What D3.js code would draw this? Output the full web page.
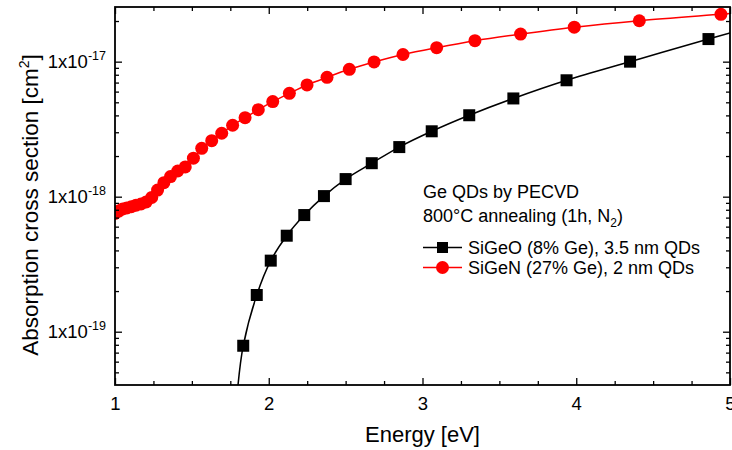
<!DOCTYPE html>
<html>
<head>
<meta charset="utf-8">
<script src="https://cdn.jsdelivr.net/npm/d3@7"></script>
<style>
  html, body { margin: 0; padding: 0; background: #fff; }
  svg { display: block; font-family: "Liberation Sans", Arial, sans-serif; }
</style>
</head>
<body>
<svg id="chart" width="732" height="450"></svg>
<script>
// ---- data ----
const energySiGeO = [1.834, 1.922, 2.013, 2.117, 2.231, 2.359, 2.500, 2.670, 2.849, 3.060, 3.304, 3.591, 3.937, 4.350, 4.860];
const sigmaSiGeO  = [7.87e-20, 1.87e-19, 3.36e-19, 5.14e-19, 7.31e-19, 1.01e-18, 1.35e-18, 1.77e-18, 2.33e-18, 3.05e-18, 4.01e-18, 5.34e-18, 7.28e-18, 1.00e-17, 1.47e-17];
// fitted curve drawn through the SiGeO points
const fitEnergySiGeO = [1.795, 1.834, 1.922, 2.013, 2.117, 2.231, 2.359, 2.500, 2.670, 2.849, 3.060, 3.304, 3.591, 3.937, 4.350, 4.860, 5.000];
const fitSigmaSiGeO  = [3.5e-20, 7.87e-20, 1.87e-19, 3.36e-19, 5.14e-19, 7.31e-19, 1.01e-18, 1.35e-18, 1.77e-18, 2.33e-18, 3.05e-18, 4.01e-18, 5.34e-18, 7.28e-18, 1.00e-17, 1.47e-17, 1.63e-17];

const energySiGeN = [1.000, 1.024, 1.050, 1.077, 1.106, 1.137, 1.169, 1.203, 1.239, 1.277, 1.318, 1.361, 1.408, 1.457, 1.510,
                     1.564, 1.629, 1.694, 1.765, 1.846, 1.932, 2.026, 2.134, 2.249, 2.379, 2.524, 2.685, 2.873, 3.092, 3.341,
                     3.638, 3.987, 4.410, 4.941];
const sigmaSiGeN  = [7.51e-19, 7.83e-19, 8.11e-19, 8.25e-19, 8.42e-19, 8.65e-19, 8.83e-19, 9.14e-19, 9.87e-19, 1.12e-18, 1.27e-18, 1.41e-18, 1.55e-18, 1.66e-18, 1.93e-18,
                     2.28e-18, 2.60e-18, 2.95e-18, 3.38e-18, 3.85e-18, 4.41e-18, 5.06e-18, 5.83e-18, 6.72e-18, 7.66e-18, 8.78e-18, 9.95e-18, 1.13e-17, 1.27e-17, 1.43e-17,
                     1.60e-17, 1.80e-17, 2.01e-17, 2.24e-17];
const lineEndEnergySiGeN = 5.0;
const lineEndSigmaSiGeN = 2.27e-17;

const xMajorTicks = [1, 2, 3, 4, 5];
const xMinorTicks = [1.25, 1.5, 1.75, 2.25, 2.5, 2.75, 3.25, 3.5, 3.75, 4.25, 4.5, 4.75];
const yMajorTicks = [1e-19, 1e-18, 1e-17];
const yMajorExponents = ["-19", "-18", "-17"];
const yMinorTicks = [5e-20, 6e-20, 7e-20, 8e-20, 9e-20,
                     2e-19, 3e-19, 4e-19, 5e-19, 6e-19, 7e-19, 8e-19, 9e-19,
                     2e-18, 3e-18, 4e-18, 5e-18, 6e-18, 7e-18, 8e-18, 9e-18,
                     2e-17];

const legendTitle1 = "Ge QDs by PECVD";
const legendTitle2 = "800°C annealing (1h, N";
const legendLabels = ["SiGeO (8% Ge), 3.5 nm QDs", "SiGeN (27% Ge), 2 nm QDs"];

// ---- layout ----
const svg = d3.select("#chart");
const L = 115, R = 730, T = 7, B = 385;
const x = d3.scaleLinear().domain([1, 5]).range([L, R]);
const y = d3.scaleLog().domain([4.03e-20, 2.54e-17]).range([B, T]);

const defs = svg.append("defs");
defs.append("clipPath").attr("id", "clip")
  .append("rect").attr("x", L).attr("y", T).attr("width", R - L).attr("height", B - T);

const plot = svg.append("g").attr("clip-path", "url(#clip)");

// SiGeO fit line
const lineGen = d3.line().x(d => x(d[0])).y(d => y(d[1]));
plot.append("path")
  .datum(fitEnergySiGeO.map((e, i) => [e, fitSigmaSiGeO[i]]))
  .attr("fill", "none").attr("stroke", "#000").attr("stroke-width", 1.5)
  .attr("d", lineGen.curve(d3.curveCatmullRom.alpha(0.5)));

plot.selectAll("rect.sq")
  .data(energySiGeO.map((e, i) => [e, sigmaSiGeO[i]]))
  .join("rect").attr("class", "sq")
  .attr("x", d => x(d[0]) - 6).attr("y", d => y(d[1]) - 6)
  .attr("width", 12).attr("height", 12).attr("fill", "#000");

// SiGeN line + circles
const redPts = energySiGeN.map((e, i) => [e, sigmaSiGeN[i]]);
plot.append("path")
  .datum(redPts.concat([[lineEndEnergySiGeN, lineEndSigmaSiGeN]]))
  .attr("fill", "none").attr("stroke", "#ff0000").attr("stroke-width", 1.5)
  .attr("d", d3.line().x(d => x(d[0])).y(d => y(d[1])).curve(d3.curveCatmullRom.alpha(0.5)));

plot.selectAll("circle.rd")
  .data(redPts)
  .join("circle").attr("class", "rd")
  .attr("cx", d => x(d[0])).attr("cy", d => y(d[1]))
  .attr("r", 6.5).attr("fill", "#ff0000");

// ---- axes ----
const axisG = svg.append("g");
// bottom
axisG.append("g").attr("transform", `translate(0,${B})`)
  .call(d3.axisBottom(x).tickValues(xMajorTicks).tickSizeInner(-7).tickSizeOuter(0).tickPadding(12).tickFormat(d3.format("d")));
axisG.append("g").attr("transform", `translate(0,${B})`)
  .call(d3.axisBottom(x).tickValues(xMinorTicks).tickSizeInner(-4).tickSizeOuter(0).tickFormat(""));
// top
axisG.append("g").attr("transform", `translate(0,${T})`)
  .call(d3.axisTop(x).tickValues(xMajorTicks).tickSizeInner(-7).tickSizeOuter(0).tickFormat(""));
axisG.append("g").attr("transform", `translate(0,${T})`)
  .call(d3.axisTop(x).tickValues(xMinorTicks).tickSizeInner(-4).tickSizeOuter(0).tickFormat(""));
// left
axisG.append("g").attr("transform", `translate(${L},0)`)
  .call(d3.axisLeft(y).tickValues(yMajorTicks).tickSizeInner(-7).tickSizeOuter(0).tickFormat(""));
axisG.append("g").attr("transform", `translate(${L},0)`)
  .call(d3.axisLeft(y).tickValues(yMinorTicks).tickSizeInner(-4).tickSizeOuter(0).tickFormat(""));
// right
axisG.append("g").attr("transform", `translate(${R},0)`)
  .call(d3.axisRight(y).tickValues(yMajorTicks).tickSizeInner(-7).tickSizeOuter(0).tickFormat(""));
axisG.append("g").attr("transform", `translate(${R},0)`)
  .call(d3.axisRight(y).tickValues(yMinorTicks).tickSizeInner(-4).tickSizeOuter(0).tickFormat(""));

axisG.selectAll(".domain").remove();
axisG.selectAll(".tick line").attr("stroke", "#000").attr("stroke-width", 1.3);
axisG.selectAll(".tick text").attr("font-size", 18.5).attr("fill", "#000")
  .attr("font-family", "'Liberation Sans', Arial, sans-serif");

// frame
svg.append("rect").attr("x", L).attr("y", T).attr("width", R - L).attr("height", B - T)
  .attr("fill", "none").attr("stroke", "#000").attr("stroke-width", 1.8);

// y tick labels 1x10^n
yMajorTicks.forEach((v, i) => {
  const t = svg.append("text")
    .attr("x", 106).attr("y", y(v) + 6.5)
    .attr("text-anchor", "end").attr("font-size", 18.5).attr("fill", "#000");
  t.append("tspan").text("1x10");
  t.append("tspan").attr("font-size", 12.5).attr("dy", -8).text(yMajorExponents[i]);
});

// axis titles
svg.append("text").attr("x", (L + R) / 2).attr("y", 442)
  .attr("text-anchor", "middle").attr("font-size", 22).attr("fill", "#000")
  .text("Energy [eV]");

const yt = svg.append("text").attr("transform", `translate(38,205) rotate(-90)`)
  .attr("text-anchor", "middle").attr("font-size", 22.5).attr("fill", "#000");
yt.append("tspan").text("Absorption cross section [cm");
yt.append("tspan").attr("font-size", 14).attr("dy", -9).text("2");
yt.append("tspan").attr("dy", 9).text("]");

// legend
const lg = svg.append("g").attr("font-size", 18).attr("fill", "#000");
lg.append("text").attr("x", 423).attr("y", 198).text(legendTitle1);
const t2 = lg.append("text").attr("x", 423).attr("y", 222);
t2.append("tspan").text(legendTitle2);
t2.append("tspan").attr("font-size", 12).attr("dy", 5).text("2");
t2.append("tspan").attr("dy", -5).text(")");

const legendColors = ["#000", "#ff0000"];
const legendY = [247.5, 267.5];
legendLabels.forEach((lab, i) => {
  const cy = legendY[i];
  lg.append("line").attr("x1", 423).attr("x2", 462).attr("y1", cy).attr("y2", cy)
    .attr("stroke", legendColors[i]).attr("stroke-width", 1.5);
  if (i === 0) {
    lg.append("rect").attr("x", 442.5 - 5.5).attr("y", cy - 5.5).attr("width", 11).attr("height", 11).attr("fill", "#000");
  } else {
    lg.append("circle").attr("cx", 442.5).attr("cy", cy).attr("r", 6.5).attr("fill", "#ff0000");
  }
  lg.append("text").attr("x", 468).attr("y", cy + 6.5).text(lab);
});
</script>
</body>
</html>
